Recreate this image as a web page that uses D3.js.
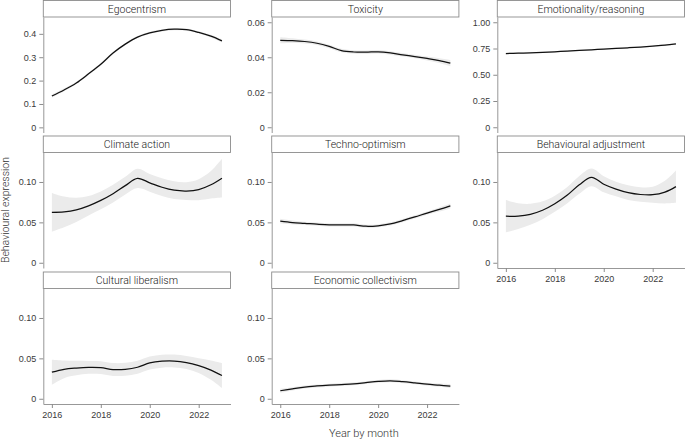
<!DOCTYPE html>
<html>
<head>
<meta charset="utf-8">
<script src="https://cdn.jsdelivr.net/npm/d3@7"></script>
<style>
  body { margin: 0; background: #fff; }
  svg { font-family: Roboto, "Noto Sans", sans-serif; font-weight: 300; }
  .tick text { fill: #3a3a3a; font-size: 9px; }
  .domain, .tick line { stroke: #8c8c8c; }
</style>
</head>
<body>
<div id="chart"></div>
<script>
// time points (years), monthly smoothed series sampled every half year
const years = [2016, 2016.5, 2017, 2017.5, 2018, 2018.5, 2019, 2019.5, 2020, 2020.5, 2021, 2021.5, 2022, 2022.5, 2022.95];
const xTicks = [2016, 2018, 2020, 2022];

const titles = ["Egocentrism", "Toxicity", "Emotionality/reasoning", "Climate action",
  "Techno-optimism", "Behavioural adjustment", "Cultural liberalism", "Economic collectivism"];

const egocentrism = [0.134, 0.160, 0.190, 0.229, 0.270, 0.318, 0.356, 0.386, 0.404, 0.415, 0.420, 0.418, 0.406, 0.390, 0.370];
const egocentrismBand = [0.007, 0.006, 0.005, 0.005, 0.005, 0.005, 0.005, 0.005, 0.005, 0.005, 0.005, 0.005, 0.005, 0.006, 0.007];

const toxicity = [0.0497, 0.0495, 0.0490, 0.0480, 0.0462, 0.0438, 0.0430, 0.0429, 0.0431, 0.0425, 0.0414, 0.0404, 0.0393, 0.0381, 0.0367];
const toxicityBand = [0.0018, 0.0014, 0.0011, 0.0010, 0.0010, 0.0010, 0.0010, 0.0010, 0.0010, 0.0010, 0.0010, 0.0010, 0.0011, 0.0014, 0.0018];

const emotionality = [0.702, 0.705, 0.709, 0.714, 0.719, 0.725, 0.731, 0.738, 0.745, 0.751, 0.757, 0.764, 0.772, 0.781, 0.793];
const emotionalityBand = [0.007, 0.006, 0.005, 0.005, 0.005, 0.005, 0.005, 0.005, 0.005, 0.005, 0.005, 0.005, 0.005, 0.006, 0.007];

const climate = [0.0625, 0.0630, 0.0655, 0.0705, 0.0772, 0.0855, 0.0955, 0.1045, 0.0990, 0.0935, 0.0898, 0.0888, 0.0905, 0.0965, 0.1047];
const climateBand = [0.024, 0.019, 0.015, 0.012, 0.011, 0.011, 0.011, 0.012, 0.011, 0.011, 0.011, 0.011, 0.013, 0.017, 0.024];

const techno = [0.0515, 0.0498, 0.0488, 0.0477, 0.0469, 0.0470, 0.0468, 0.0452, 0.0458, 0.0480, 0.0522, 0.0567, 0.0615, 0.0660, 0.0703];
const technoBand = [0.003, 0.0025, 0.002, 0.002, 0.002, 0.002, 0.002, 0.002, 0.002, 0.002, 0.002, 0.002, 0.002, 0.0025, 0.003];

const adjustment = [0.0576, 0.0578, 0.0600, 0.0650, 0.0730, 0.0835, 0.0965, 0.1058, 0.0972, 0.0912, 0.0868, 0.0845, 0.0842, 0.0875, 0.0943];
const adjustmentBand = [0.020, 0.016, 0.013, 0.011, 0.010, 0.010, 0.011, 0.011, 0.010, 0.009, 0.009, 0.009, 0.010, 0.014, 0.020];

const cultural = [0.0329, 0.0365, 0.0380, 0.0388, 0.0385, 0.0362, 0.0365, 0.0390, 0.0443, 0.0465, 0.0467, 0.0448, 0.0410, 0.0355, 0.0287];
const culturalBand = [0.0155, 0.011, 0.009, 0.008, 0.008, 0.008, 0.008, 0.008, 0.008, 0.008, 0.008, 0.008, 0.009, 0.012, 0.0155];

const economic = [0.0099, 0.0123, 0.0145, 0.0158, 0.0168, 0.0176, 0.0185, 0.0200, 0.0215, 0.0222, 0.0211, 0.0196, 0.0180, 0.0168, 0.0156];
const economicBand = [0.0025, 0.002, 0.0018, 0.0018, 0.0018, 0.0018, 0.0018, 0.0018, 0.0018, 0.0018, 0.0018, 0.0018, 0.0018, 0.002, 0.0025];

// y ticks per panel
const ticksEgo = [0, 0.1, 0.2, 0.3, 0.4];
const ticksTox = [0, 0.02, 0.04, 0.06];
const ticksEmo = [0, 0.25, 0.5, 0.75, 1];
const ticksSmall = [0, 0.05, 0.1];

const series = [egocentrism, toxicity, emotionality, climate, techno, adjustment, cultural, economic];
const bands = [egocentrismBand, toxicityBand, emotionalityBand, climateBand, technoBand, adjustmentBand, culturalBand, economicBand];
const yTicks = [ticksEgo, ticksTox, ticksEmo, ticksSmall, ticksSmall, ticksSmall, ticksSmall, ticksSmall];
const yFormats = [d3.format(".1f"), d3.format(".2f"), d3.format(".2f"), d3.format(".2f"), d3.format(".2f"), d3.format(".2f"), d3.format(".2f"), d3.format(".2f")];
const yDomains = [[-0.022, 0.472], [-0.003, 0.063], [-0.05, 1.05],
  [-0.0065, 0.1365], [-0.0065, 0.1365], [-0.0065, 0.1365], [-0.0065, 0.1365], [-0.0065, 0.1365]];
// which panels carry the x axis
const showX = [false, false, false, false, false, true, true, true];

/* Sizing */
const width = 685, height = 439;
const colLeft = [43.3, 271.7, 497.3];
const rowTop = [0.5, 136, 272];
const panelW = 187.2, stripH = 16.5, panelH = 115.5;

const svg = d3.select("#chart").append("svg")
  .attr("width", width)
  .attr("height", height);

const xScale = d3.scaleLinear().domain([2015.65, 2023.3]).range([0, panelW]);

series.forEach((values, i) => {
  const col = i % 3, row = Math.floor(i / 3);
  const g = svg.append("g")
    .attr("transform", `translate(${colLeft[col]}, ${rowTop[row]})`);

  // strip
  g.append("rect")
    .attr("x", 0).attr("y", 0)
    .attr("width", panelW).attr("height", stripH)
    .attr("fill", "#fff").attr("stroke", "#8c8c8c").attr("stroke-width", 0.9);
  g.append("text")
    .attr("x", panelW / 2).attr("y", stripH / 2 + 3.8)
    .attr("text-anchor", "middle")
    .attr("font-size", 10.5)
    .attr("fill", "#222")
    .text(titles[i]);

  const p = g.append("g").attr("transform", `translate(0, ${stripH})`);
  const yScale = d3.scaleLinear().domain(yDomains[i]).range([panelH, 0]);

  const pts = years.map((y, j) => ({ x: y, v: values[j], b: bands[i][j] }));

  p.append("path")
    .datum(pts)
    .attr("fill", "#ebebeb")
    .attr("d", d3.area()
      .curve(d3.curveCatmullRom)
      .x((d) => xScale(d.x))
      .y0((d) => yScale(d.v - d.b))
      .y1((d) => yScale(d.v + d.b)));

  p.append("path")
    .datum(pts)
    .attr("fill", "none")
    .attr("stroke", "#111")
    .attr("stroke-width", 1.25)
    .attr("d", d3.line()
      .curve(d3.curveCatmullRom)
      .x((d) => xScale(d.x))
      .y((d) => yScale(d.v)));

  const yAxis = d3.axisLeft(yScale)
    .tickValues(yTicks[i])
    .tickFormat((d) => (d === 0 ? "0" : yFormats[i](d)))
    .tickSize(4)
    .tickPadding(3)
    .tickSizeOuter(0);
  p.append("g").call(yAxis);

  if (showX[i]) {
    const xAxis = d3.axisBottom(xScale)
      .tickValues(xTicks)
      .tickFormat(d3.format("d"))
      .tickSize(4)
      .tickPadding(3.5)
      .tickSizeOuter(0);
    p.append("g").attr("transform", `translate(0, ${panelH})`).call(xAxis);
  }
});

svg.selectAll(".domain").attr("stroke-width", 0.9);

// axis titles
svg.append("text")
  .attr("x", (colLeft[0] + colLeft[2] + panelW) / 2)
  .attr("y", 436.5)
  .attr("text-anchor", "middle")
  .attr("font-size", 11)
  .attr("fill", "#333")
  .text("Year by month");

svg.append("text")
  .attr("transform", "translate(9, 210) rotate(-90)")
  .attr("text-anchor", "middle")
  .attr("font-size", 10.5)
  .attr("fill", "#333")
  .text("Behavioural expression");
</script>
</body>
</html>
